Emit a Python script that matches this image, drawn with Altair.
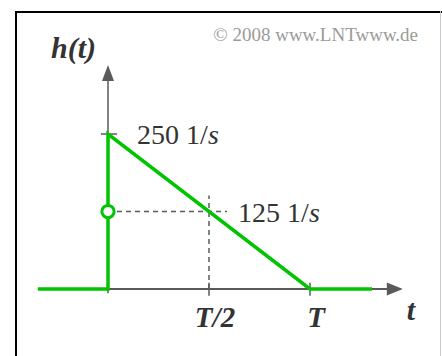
import altair as alt
import pandas as pd

# Impulse response h(t): jump to 250 1/s at t=0, falls linearly to 0 at t=T
curve_t = [-0.347, 0.0, 0.0, 1.0, 1.307]
curve_h = [0, 0, 250, 0, 0]

# Value at the discontinuity (mean of left and right limits)
jump_t = [0.0]
jump_h = [125]

# Helper lines
dash_h_t = [0.0, 0.589]
dash_h_h = [125, 125]
dash_v_t = [0.5, 0.5]
dash_v_h = [0, 151]

tick_labels = ["T/2", "T"]
tick_pos = [0.5, 1.0]
level_vals = [250, 125]
level_numbers = ["250 1/", "125 1/"]
level_unit = ["s", "s"]

GREEN = "#00c400"
AXIS = "#5a5a5a"
TEXT = "#333333"
FONT = "'Liberation Serif', 'Times New Roman', 'DejaVu Serif', serif"

W, H = 427, 345
xs = alt.Scale(domain=[-0.4604, 1.6535], nice=False, zero=False)
ys = alt.Scale(domain=[-108.06, 448.39], nice=False, zero=False)


def X(field):
    return alt.X(field, type="quantitative", scale=xs, axis=None)


def Y(field):
    return alt.Y(field, type="quantitative", scale=ys, axis=None)


curve = pd.DataFrame({"t": curve_t, "h": curve_h, "i": range(len(curve_t))})
dash_h = pd.DataFrame({"t": dash_h_t, "h": dash_h_h})
dash_v = pd.DataFrame({"t": dash_v_t, "h": dash_v_h})
jump = pd.DataFrame({"t": jump_t, "h": jump_h})

x_axis = pd.DataFrame({"t": [-0.347, 1.40], "h": [0, 0]})
y_axis = pd.DataFrame({"t": [0.0, 0.0], "h": [0, 345]})
x_ticks = pd.DataFrame({"t": tick_pos + [0.0], "h": [10, 10, 0], "h2": [-11, -11, -7]})
y_tick = pd.DataFrame({"t": [-0.035], "t2": [0.045], "h": [250]})
x_arrow = pd.DataFrame({"t": [1.42], "h": [0]})
y_arrow = pd.DataFrame({"t": [0.0], "h": [348.4]})

ticks_df = pd.DataFrame({"t": tick_pos, "h": [0, 0], "label": tick_labels})
levels_df = pd.DataFrame({"t": [0.0, 0.5], "h": level_vals,
                          "num": level_numbers, "unit": level_unit})

frame_top = alt.Chart(pd.DataFrame({"a": [0]})).mark_rule(color="#000000", strokeWidth=2).encode(
    x=alt.value(0), x2=alt.value(W), y=alt.value(1))
frame_left = alt.Chart(pd.DataFrame({"a": [0]})).mark_rule(color="#000000", strokeWidth=2).encode(
    x=alt.value(1), y=alt.value(0), y2=alt.value(H))
frame_right = alt.Chart(pd.DataFrame({"a": [0]})).mark_rule(color="#c8c8c8", strokeWidth=1).encode(
    x=alt.value(W - 1.5), y=alt.value(0), y2=alt.value(H))

dashed_h = alt.Chart(dash_h).mark_line(color=AXIS, strokeWidth=1.5, strokeDash=[5, 4]).encode(
    x=X("t"), y=Y("h"))
dashed_v = alt.Chart(dash_v).mark_line(color=AXIS, strokeWidth=1.5, strokeDash=[5, 4]).encode(
    x=X("t"), y=Y("h"))

xaxis = alt.Chart(x_axis).mark_line(color=AXIS, strokeWidth=2).encode(x=X("t"), y=Y("h"))
yaxis = alt.Chart(y_axis).mark_line(color=AXIS, strokeWidth=1.5).encode(x=X("t"), y=Y("h"))
xticks = alt.Chart(x_ticks).mark_rule(color=AXIS, strokeWidth=1.5).encode(
    x=X("t"), y=Y("h"), y2="h2")
ytick = alt.Chart(y_tick).mark_rule(color=AXIS, strokeWidth=1.5).encode(
    x=X("t"), x2="t2", y=Y("h"))
xarrow = alt.Chart(x_arrow).mark_point(
    shape="M1,0L-1,-0.8L-1,0.8Z", size=256, filled=True, color=AXIS, opacity=1, strokeWidth=0
).encode(x=X("t"), y=Y("h"))
yarrow = alt.Chart(y_arrow).mark_point(
    shape="M0,-1L0.75,1L-0.75,1Z", size=256, filled=True, color=AXIS, opacity=1, strokeWidth=0
).encode(x=X("t"), y=Y("h"))

green = alt.Chart(curve).mark_line(color=GREEN, strokeWidth=3.5, strokeJoin="miter").encode(
    x=X("t"), y=Y("h"), order="i")
circle = alt.Chart(jump).mark_point(
    shape="circle", size=150, filled=True, fill="white", stroke=GREEN, strokeWidth=3, opacity=1
).encode(x=X("t"), y=Y("h"))

tick_text = alt.Chart(ticks_df).mark_text(
    font=FONT, fontSize=29, fontStyle="italic", fontWeight="bold", color=TEXT,
    align="center", baseline="alphabetic", dx=6, dy=38
).encode(x=X("t"), y=Y("h"), text="label")

# level labels: number and "1/" upright, the unit "s" in italics
level_text = alt.Chart(levels_df).mark_text(
    font=FONT, fontSize=28, color=TEXT, align="left", baseline="middle", dx=29, dy=2
).encode(x=X("t"), y=Y("h"), text="num")
level_unit_text = alt.Chart(levels_df).mark_text(
    font=FONT, fontSize=28, fontStyle="italic", color=TEXT, align="left", baseline="middle",
    dx=100, dy=2
).encode(x=X("t"), y=Y("h"), text="unit")

h_label = alt.Chart(pd.DataFrame({"t": [-0.059], "h": [372], "s": ["h(t)"]})).mark_text(
    font=FONT, fontSize=30, fontStyle="italic", fontWeight="bold", color=TEXT,
    align="right", baseline="alphabetic"
).encode(x=X("t"), y=Y("h"), text="s")

t_label = alt.Chart(pd.DataFrame({"t": [1.5], "h": [-50], "s": ["t"]})).mark_text(
    font=FONT, fontSize=30, fontStyle="italic", fontWeight="bold", color=TEXT,
    align="center", baseline="alphabetic"
).encode(x=X("t"), y=Y("h"), text="s")

copyright = alt.Chart(pd.DataFrame({"t": [1.535], "h": [400], "s": ["\u00a9 2008 www.LNTwww.de"]})).mark_text(
    font=FONT, fontSize=19, color="#9a9a9a", align="right", baseline="alphabetic"
).encode(x=X("t"), y=Y("h"), text="s")

chart = alt.layer(
    frame_top, frame_left, frame_right,
    dashed_h, dashed_v,
    xaxis, yaxis, xticks, ytick, xarrow, yarrow,
    green, circle,
    tick_text, level_text, level_unit_text, h_label, t_label, copyright,
).properties(
    width=W, height=H,
    autosize=alt.AutoSizeParams(type="none"),
    padding={"left": 15, "top": 11, "right": 0, "bottom": 0},
    background="white",
).configure_view(stroke=None)

chart.save("out.html", embed_options={"renderer": "svg", "actions": False})
